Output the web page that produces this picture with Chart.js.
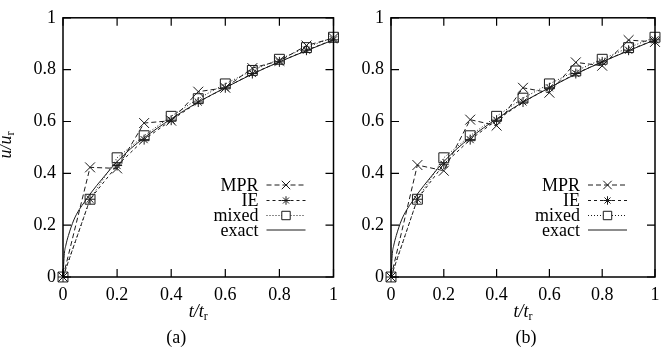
<!DOCTYPE html>
<html><head><meta charset="utf-8">
<script src="https://cdn.jsdelivr.net/npm/chart.js@4"></script>
<style>
html,body{margin:0;padding:0;background:#fff;width:667px;height:353px;overflow:hidden}
#a{position:absolute;left:0;top:0;width:345px;height:353px}
#b{position:absolute;left:345px;top:0;width:322px;height:353px}
</style></head><body>
<div id="a"><canvas id="ca"></canvas></div>
<div id="b"><canvas id="cb"></canvas></div>
<script>
// ---- data ----
const tVals = [0, 0.1, 0.2, 0.3, 0.4, 0.5, 0.6, 0.7, 0.8, 0.9, 1.0];
const mprA   = [0, 0.423, 0.419, 0.594, 0.603, 0.715, 0.73, 0.806, 0.834, 0.893, 0.922];
const ieA    = [0, 0.30, 0.43, 0.53, 0.605, 0.675, 0.73, 0.785, 0.83, 0.875, 0.915];
const mixedA = [0, 0.30, 0.46, 0.545, 0.62, 0.688, 0.745, 0.797, 0.84, 0.885, 0.925];
const mprB   = [0, 0.432, 0.41, 0.607, 0.584, 0.73, 0.711, 0.828, 0.815, 0.914, 0.907];
const ieB    = [0, 0.30, 0.435, 0.53, 0.605, 0.675, 0.73, 0.785, 0.83, 0.875, 0.915];
const mixedB = [0, 0.30, 0.46, 0.545, 0.62, 0.69, 0.745, 0.795, 0.84, 0.885, 0.925];
const exactT = [0, 0.005, 0.01, 0.02, 0.04, 0.06, 0.08, 0.1, 0.15, 0.2, 0.25, 0.3, 0.35, 0.4, 0.5, 0.6, 0.7, 0.8, 0.9, 1.0];
const exactU = [0, 0.09, 0.12, 0.16, 0.22, 0.26, 0.29, 0.32, 0.385, 0.445, 0.495, 0.537, 0.575, 0.61, 0.675, 0.73, 0.783, 0.83, 0.873, 0.915];
const tickLabels = ['0', '0.2', '0.4', '0.6', '0.8', '1'];
const seriesNames = ['MPR', 'IE', 'mixed', 'exact'];
const captions = ['(a)', '(b)'];

const SERIF = '"Liberation Serif", "DejaVu Serif", serif';
const INK = '#1a1a1a';

function pts(xs, ys) { return xs.map((x, i) => ({x: x, y: ys[i]})); }

const styles = [
  {pointStyle: 'crossRot', pointRadius: 7, borderDash: [5, 3]},
  {pointStyle: 'star', pointRadius: 5, borderDash: [3, 3]},
  {pointStyle: 'rect', pointRadius: 7, borderDash: [1, 2]},
  {pointStyle: false, pointRadius: 0, borderDash: []}
];

function makeDatasets(mpr, ie, mixed) {
  const sets = [pts(tVals, mpr), pts(tVals, ie), pts(tVals, mixed), pts(exactT, exactU)];
  return sets.map((d, i) => ({
    label: seriesNames[i],
    data: d,
    borderColor: INK,
    backgroundColor: 'rgba(0,0,0,0)',
    pointBorderColor: INK,
    pointBackgroundColor: 'rgba(0,0,0,0)',
    borderWidth: 1,
    pointBorderWidth: 1,
    pointStyle: styles[i].pointStyle,
    pointRadius: styles[i].pointRadius,
    pointHoverRadius: styles[i].pointRadius,
    borderDash: styles[i].borderDash,
    cubicInterpolationMode: i === 3 ? 'monotone' : 'default',
    tension: 0,
    clip: false,
    showLine: true
  }));
}

function drawSubLabel(ctx, x, y, main, sub, rotate) {
  ctx.save();
  ctx.translate(x, y);
  if (rotate) ctx.rotate(-Math.PI / 2);
  ctx.fillStyle = '#000';
  ctx.textBaseline = 'alphabetic';
  const fMain = 'italic 18px ' + SERIF;
  const fSub = '12px ' + SERIF;
  ctx.font = fMain; const w1 = ctx.measureText(main).width;
  ctx.font = fSub; const w2 = ctx.measureText(sub).width;
  const total = w1 + w2;
  ctx.font = fMain; ctx.textAlign = 'left';
  ctx.fillText(main, -total / 2, 6);
  ctx.font = fSub;
  ctx.fillText(sub, -total / 2 + w1, 9);
  ctx.restore();
}

const framePlugin = {
  id: 'frame',
  afterDraw(chart, args, opts) {
    const ctx = chart.ctx, a = chart.chartArea;
    const xs = chart.scales.x, ys = chart.scales.y;
    ctx.save();
    ctx.strokeStyle = '#000';
    ctx.lineWidth = 1.5;
    ctx.setLineDash([]);
    ctx.strokeRect(a.left, a.top, a.right - a.left, a.bottom - a.top);
    const L = 8;
    ctx.lineWidth = 1.2;
    ctx.beginPath();
    xs.ticks.forEach(t => {
      const px = xs.getPixelForValue(t.value);
      ctx.moveTo(px, a.bottom); ctx.lineTo(px, a.bottom - L);
      ctx.moveTo(px, a.top); ctx.lineTo(px, a.top + L);
    });
    ys.ticks.forEach(t => {
      const py = ys.getPixelForValue(t.value);
      ctx.moveTo(a.left, py); ctx.lineTo(a.left + L, py);
      ctx.moveTo(a.right, py); ctx.lineTo(a.right - L, py);
    });
    ctx.stroke();

    // legend (inside, lower right)
    const lineEnd = a.right - 28, lineStart = lineEnd - 39, textEnd = lineStart - 8;
    const rowY = [185, 200.5, 215.5, 230];
    ctx.textAlign = 'right';
    ctx.textBaseline = 'middle';
    chart.data.datasets.forEach((ds, i) => {
      const y = rowY[i];
      ctx.font = '18px ' + SERIF;
      ctx.fillStyle = '#000';
      ctx.fillText(ds.label, textEnd, y + 1);
      ctx.strokeStyle = INK;
      ctx.lineWidth = 1;
      ctx.setLineDash(ds.borderDash || []);
      ctx.beginPath(); ctx.moveTo(lineStart, y); ctx.lineTo(lineEnd, y); ctx.stroke();
      ctx.setLineDash([]);
      if (ds.pointStyle) {
        ctx.fillStyle = '#fff';
        Chart.helpers.drawPoint(ctx, {
          pointStyle: ds.pointStyle, radius: ds.pointRadius * 0.85, rotation: 0, borderWidth: 1
        }, (lineStart + lineEnd) / 2, y);
      }
    });

    // axis titles and caption
    const cx = (a.left + a.right) / 2;
    drawSubLabel(ctx, cx, 311, 't/t', 'r', false);
    ctx.font = '18px ' + SERIF;
    ctx.fillStyle = '#000';
    ctx.textAlign = 'center';
    ctx.textBaseline = 'middle';
    ctx.fillText(opts.caption, cx + (opts.capShift || 0), 338);
    if (opts.yTitle) drawSubLabel(ctx, 5, 145, 'u/u', 'r', true);
    ctx.restore();
  }
};

function makeChart(id, mpr, ie, mixed, yWidth, padRight, caption, yTitle, capShift) {
  const fmt = (v) => tickLabels[Math.round(v * 5)] !== undefined ? tickLabels[Math.round(v * 5)] : String(v);
  return new Chart(document.getElementById(id), {
    type: 'scatter',
    data: {datasets: makeDatasets(mpr, ie, mixed)},
    options: {
      responsive: true,
      maintainAspectRatio: false,
      animation: false,
      events: [],
      layout: {padding: {top: 14, right: padRight, left: 0, bottom: 0}},
      plugins: {legend: {display: false}, tooltip: {enabled: false}, frame: {caption: caption, yTitle: yTitle, capShift: capShift}},
      scales: {
        x: {
          type: 'linear', min: 0, max: 1,
          grid: {display: false, drawTicks: false},
          border: {display: false},
          ticks: {stepSize: 0.2, color: '#000', padding: 7, font: {family: SERIF, size: 18}, maxRotation: 0, callback: fmt},
          afterFit(s) { s.height = 76; }
        },
        y: {
          type: 'linear', min: 0, max: 1,
          grid: {display: false, drawTicks: false},
          border: {display: false},
          ticks: {stepSize: 0.2, color: '#000', padding: 7, font: {family: SERIF, size: 18}, callback: fmt},
          afterFit(s) { s.width = yWidth; }
        }
      }
    },
    plugins: [framePlugin]
  });
}

makeChart('ca', mprA, ieA, mixedA, 63, 10, captions[0], true, -22);
makeChart('cb', mprB, ieB, mixedB, 46, 12, captions[1], false, 3);
</script>
</body></html>
